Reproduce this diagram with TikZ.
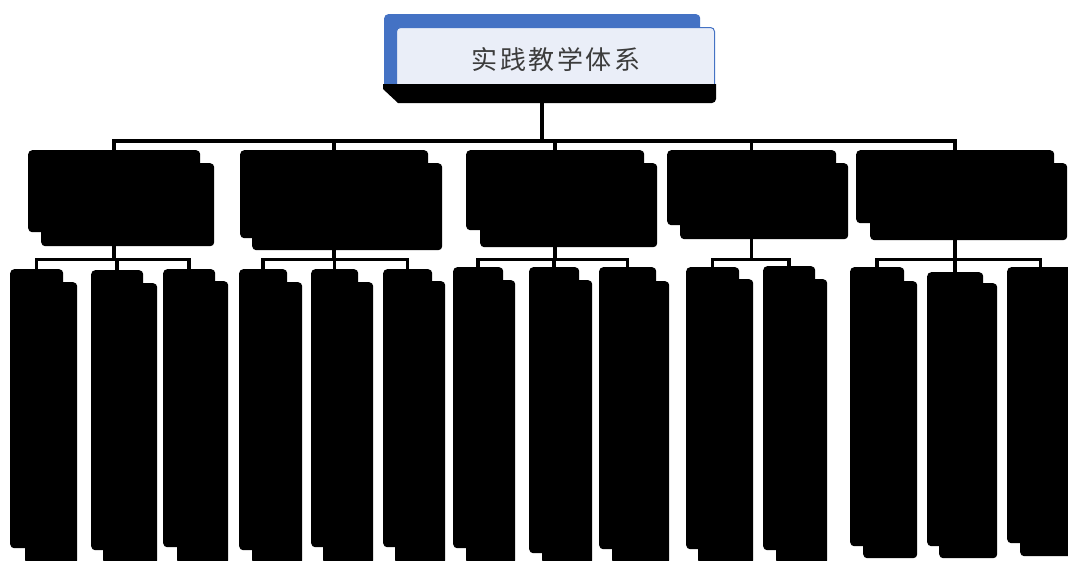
\documentclass[tikz,border=0pt]{standalone}
\usepackage{fontspec}
\newfontfamily\cjk[LetterSpace=10]{Noto Sans CJK SC}
\definecolor{rootblue}{HTML}{4472C4}
\definecolor{rootfill}{HTML}{EAEEF8}
\definecolor{txtgray}{HTML}{3C3C3C}
\tikzset{
  blk/.style={fill=black, rounded corners=4pt, inner sep=0pt, anchor=north west},
  conn/.style={draw=black, line width=3.5pt},
}
% name, A: x0 y0 x1 y1, B: x0 y0 x1 y1
\newcommand\boxpair[9]{%
  \node[blk, minimum width={(#8-#6)*1pt}, minimum height={(#9-#7)*1pt}] (#1b) at (#6,#7) {};
  \node[blk, minimum width={(#4-#2)*1pt}, minimum height={(#5-#3)*1pt}] (#1) at (#2,#3) {};
}
\begin{document}
\begin{tikzpicture}[x=1pt,y=-1pt]
\path[use as bounding box] (0,0) rectangle (1068,560);
\clip (0,0) rectangle (1068,560);
\fill[white] (0,0) rectangle (1068,560);
% root
\node[blk, fill=rootblue, minimum width=316pt, minimum height=76pt] (rootback) at (384,14) {};
\node[blk, fill=rootfill, draw=rootblue, line width=1pt, minimum width=318pt, minimum height=70pt] (root) at (396,27) {};
\fill (383,84) -- (716,84) [rounded corners=4pt] -- (716,103) [sharp corners] -- (398,103) -- (383,89) -- cycle;
\node[text=txtgray, font=\cjk\fontsize{26}{30}\selectfont, inner sep=0pt] (title) at (556,60) {实践教学体系};
% level 2
\boxpair{n1}{28}{150}{200}{232}{41}{163}{214}{246}
\boxpair{n2}{240}{150}{428}{238}{252}{163}{442}{250}
\boxpair{n3}{466}{150}{644}{230}{480}{163}{657}{247}
\boxpair{n4}{667}{150}{836}{225}{680}{163}{848}{239}
\boxpair{n5}{856}{150}{1054}{223}{870}{163}{1067}{240}
% level 3
\boxpair{c11}{10}{269}{63}{548}{25}{282}{77}{564}
\boxpair{c12}{91}{270}{143}{550}{103}{283}{157}{564}
\boxpair{c13}{163}{269}{215}{547}{177}{281}{228}{564}
\boxpair{c21}{239}{269}{287}{550}{252}{282}{302}{564}
\boxpair{c22}{311}{269}{358}{547}{323}{282}{373}{564}
\boxpair{c23}{383}{269}{432}{547}{395}{281}{445}{564}
\boxpair{c31}{453}{267}{503}{548}{466}{280}{515}{564}
\boxpair{c32}{529}{267}{579}{553}{542}{280}{592}{564}
\boxpair{c33}{599}{267}{656}{549}{612}{281}{669}{564}
\boxpair{c41}{686}{267}{739}{549}{698}{279}{753}{564}
\boxpair{c42}{763}{266}{815}{550}{776}{279}{827}{564}
\boxpair{c51}{850}{267}{904}{546}{863}{281}{917}{558}
\boxpair{c52}{927}{272}{983}{546}{939}{283}{997}{558}
\boxpair{c53}{1007}{267}{1074}{543}{1020}{280}{1076}{556}
% connectors
\coordinate (bus1) at (0,141);
\coordinate (bus2) at (0,259.5);
\draw[conn, line width=4pt] (rootback.south) -- (rootback.south |- bus1);
\foreach \n in {n1,n2,n3,n4,n5}
  \draw[conn] (rootback.south) |- (\n.north |- bus1) -- (\n.north);
\foreach \p/\c in {n1/c11,n1/c12,n1/c13,n2/c21,n2/c22,n2/c23,n3/c31,n3/c32,n3/c33,n4/c41,n4/c42,n5/c51,n5/c52,n5/c53}
  \draw[conn] (\p.south) |- (\c.north |- bus2) -- (\c.north);
\end{tikzpicture}
\end{document}
